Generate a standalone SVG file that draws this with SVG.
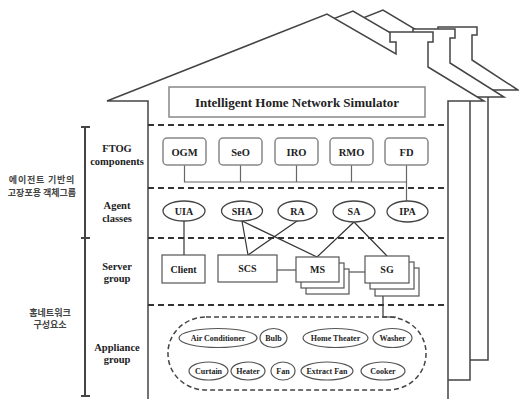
<svg xmlns="http://www.w3.org/2000/svg" width="519" height="399" viewBox="0 0 519 399">
<style>
.house{fill:#fff;stroke:#444;stroke-width:1.5;stroke-linejoin:miter}
.dash{stroke:#333;stroke-width:2;stroke-dasharray:6 4;fill:none}
.t{font-family:"Liberation Serif","Times New Roman",serif;font-weight:bold;fill:#222;text-anchor:middle}
.k{font-family:"Noto Sans CJK KR","Noto Sans",sans-serif;font-weight:bold;fill:#444;text-anchor:middle;font-size:9px}
.ftog rect{fill:#fff;stroke:#888;stroke-width:1.5}
.agent ellipse{fill:#fff;stroke:#444;stroke-width:1.3}
.srv rect{fill:#fff;stroke:#555;stroke-width:1.2}
.app ellipse{fill:#fff;stroke:#555;stroke-width:1.2}
.con{stroke:#333;stroke-width:1.2;fill:none}
.fcon{stroke:#666;stroke-width:1.2;fill:none}
.br{stroke:#444;stroke-width:2;fill:none}
</style>

<g id="house">
  <path class="house" d="M488,360 L488,90 L518,90 L472,60 L472,35 L477,35 L477,27 L438,27 L438,35 L443,35 L443,46 L383,10 L330,31 L330,360 Z"/>
  <path class="house" d="M470,380 L470,97 L504,97 L450,63 L450,38 L455,38 L455,29 L413,29 L413,38 L418,38 L418,49 L353,11 L300,32 L300,380 Z"/>
  <path class="house" d="M148,400 L148,101 L107,101 L327,14 L396,54 L396,42 L390,42 L390,32 L433,32 L433,42 L428,42 L428,67 L484,101 L448,101 L448,400"/>
</g>

<g id="title">
  <rect x="169" y="87" width="256" height="30" fill="#fff" stroke="#888" stroke-width="1.5"/>
  <text class="t" x="297" y="107" font-size="13">Intelligent Home Network Simulator</text>
</g>

<g id="layers">
  <line class="dash" x1="148" y1="125" x2="448" y2="125"/>
  <line class="dash" x1="148" y1="188" x2="448" y2="188"/>
  <line class="dash" x1="148" y1="238" x2="448" y2="238"/>
  <line class="dash" x1="148" y1="305" x2="448" y2="305"/>
</g>

<g id="bracket">
  <line class="br" x1="85" y1="127" x2="85" y2="396"/>
  <line class="br" x1="81" y1="127" x2="90" y2="127"/>
  <line class="br" x1="81" y1="238" x2="90" y2="238"/>
  <line class="br" x1="81" y1="396" x2="90" y2="396"/>
  <text class="k" x="42" y="182.5" letter-spacing="0.8">에이전트 기반의</text>
  <text class="k" x="42" y="195.5">고장포용 객체그룹</text>
  <text class="k" x="50" y="315.5">홈네트워크</text>
  <text class="k" x="50" y="327.5">구성요소</text>
</g>

<g id="layer-labels" font-size="10.5">
  <text class="t" x="117" y="152">FTOG</text>
  <text class="t" x="117" y="165">components</text>
  <text class="t" x="117" y="209">Agent</text>
  <text class="t" x="117" y="221.5">classes</text>
  <text class="t" x="117" y="269.5">Server</text>
  <text class="t" x="117" y="282">group</text>
  <text class="t" x="117" y="350.5">Appliance</text>
  <text class="t" x="117" y="362.5">group</text>
</g>

<g id="connectors">
  <path class="fcon" d="M184.5,165 V182 H406.5 M240.5,165 V182 M296.5,165 V182 M351.5,165 V182 M406.5,165 V201"/>
  <path class="con" d="M184,221 V255"/>
  <path class="con" d="M242,221 L248,255 M242,221 L317,257 M297,221 L248,255"/>
  <path class="con" d="M354,222 L317,257 M354,222 L387,256"/>
  <path class="con" d="M277,270 H296 M349,272 H365"/>
  <path class="con" d="M383,296 V317 H396"/>
</g>

<g id="ftog" class="ftog" font-size="10.5">
  <g id="OGM"><rect x="163" y="138" width="43" height="27" rx="4"/><text class="t" x="184.5" y="155.5">OGM</text></g>
  <g id="SeO"><rect x="219" y="138" width="43" height="27" rx="4"/><text class="t" x="240.5" y="155.5">SeO</text></g>
  <g id="IRO"><rect x="275" y="138" width="43" height="27" rx="4"/><text class="t" x="296.5" y="155.5">IRO</text></g>
  <g id="RMO"><rect x="330" y="138" width="43" height="27" rx="4"/><text class="t" x="351.5" y="155.5">RMO</text></g>
  <g id="FD"><rect x="385" y="138" width="43" height="27" rx="4"/><text class="t" x="406.5" y="155.5">FD</text></g>
</g>

<g id="agents" class="agent" font-size="10">
  <g id="UIA"><ellipse cx="184" cy="211" rx="21" ry="10"/><text class="t" x="184" y="214.5">UIA</text></g>
  <g id="SHA"><ellipse cx="242" cy="211" rx="20.5" ry="10"/><text class="t" x="242" y="214.5">SHA</text></g>
  <g id="RA"><ellipse cx="297.5" cy="211" rx="19.5" ry="10"/><text class="t" x="297.5" y="214.5">RA</text></g>
  <g id="SA"><ellipse cx="354" cy="211.5" rx="21" ry="10.5"/><text class="t" x="354" y="215">SA</text></g>
  <g id="IPA"><ellipse cx="407.5" cy="211.5" rx="20.5" ry="10.5"/><text class="t" x="407.5" y="215">IPA</text></g>
</g>

<g id="servers" class="srv" font-size="10">
  <g id="Client"><rect x="162" y="255" width="43" height="28"/><text class="t" x="183.5" y="272.5">Client</text></g>
  <g id="SCS"><rect x="218" y="255" width="59" height="27"/><text class="t" x="247.5" y="272">SCS</text></g>
  <g id="MS">
    <rect x="306" y="269" width="43" height="25"/>
    <rect x="301" y="263" width="43" height="25"/>
    <rect x="296" y="257" width="43" height="25"/>
    <text class="t" x="317.5" y="273">MS</text>
  </g>
  <g id="SG">
    <rect x="375" y="268" width="44" height="28"/>
    <rect x="370" y="262" width="44" height="27"/>
    <rect x="365" y="256" width="44" height="27"/>
    <text class="t" x="387" y="273">SG</text>
  </g>
</g>

<g id="appliances" class="app" font-size="8">
  <rect x="168" y="317" width="258" height="73" rx="38" ry="36" fill="none" stroke="#444" stroke-width="1.5" stroke-dasharray="5 3"/>
  <g id="AirConditioner"><ellipse cx="218" cy="338" rx="39" ry="9.5"/><text class="t" x="218" y="341">Air Conditioner</text></g>
  <g id="Bulb"><ellipse cx="273.5" cy="338" rx="13.5" ry="9.5"/><text class="t" x="273.5" y="341">Bulb</text></g>
  <g id="HomeTheater"><ellipse cx="335.5" cy="338" rx="32.5" ry="9.5"/><text class="t" x="335.5" y="341">Home Theater</text></g>
  <g id="Washer"><ellipse cx="392.5" cy="338" rx="19.5" ry="9.5"/><text class="t" x="392.5" y="341">Washer</text></g>
  <g id="Curtain"><ellipse cx="208.5" cy="371" rx="19.5" ry="9"/><text class="t" x="208.5" y="374">Curtain</text></g>
  <g id="Heater"><ellipse cx="248" cy="371" rx="17" ry="9"/><text class="t" x="248" y="374">Heater</text></g>
  <g id="Fan"><ellipse cx="283" cy="371" rx="12" ry="9"/><text class="t" x="283" y="374">Fan</text></g>
  <g id="ExtractFan"><ellipse cx="327" cy="371" rx="26" ry="9"/><text class="t" x="327" y="374">Extract Fan</text></g>
  <g id="Cooker"><ellipse cx="383" cy="371" rx="22" ry="9"/><text class="t" x="383" y="374">Cooker</text></g>
</g>
</svg>
